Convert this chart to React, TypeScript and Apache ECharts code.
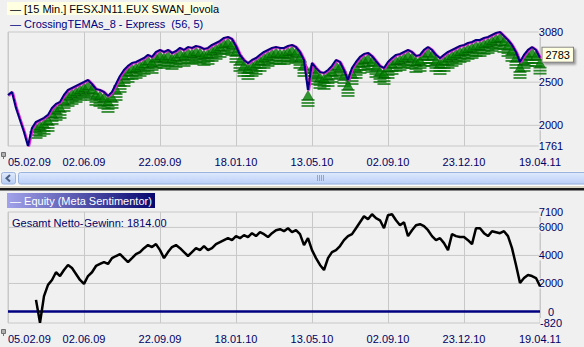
import React, { useEffect, useRef } from 'react';
import * as echarts from 'echarts';

const tickLabels = ['05.02.09', '02.06.09', '22.09.09', '18.01.10', '13.05.10', '02.09.10', '23.12.10', '19.04.11'];
const barsPerTick = 19;

const price = [
  2351, 2386, 2201, 2062, 1923, 1761, 1969, 2039, 2062, 2085,
  2120, 2201, 2247, 2270, 2351, 2409, 2432, 2455, 2478, 2501,
  2525, 2478, 2421, 2409, 2386, 2340, 2386, 2478, 2571, 2640,
  2687, 2721, 2733, 2756, 2779, 2814, 2791, 2849, 2872, 2849,
  2872, 2837, 2860, 2895, 2872, 2906, 2895, 2918, 2906, 2883,
  2895, 2930, 2953, 2976, 3011, 3022, 2999, 2918, 2814, 2756,
  2721, 2756, 2779, 2814, 2849, 2872, 2895, 2906, 2895, 2895,
  2918, 2930, 2906, 2849, 2756, 2409, 2721, 2663, 2617, 2606,
  2640, 2687, 2756, 2733, 2640, 2525, 2663, 2733, 2791, 2825,
  2837, 2802, 2744, 2687, 2663, 2733, 2779, 2814, 2825, 2849,
  2872, 2849, 2802, 2814, 2872, 2906, 2872, 2814, 2779, 2814,
  2849, 2872, 2895, 2918, 2930, 2953, 2964, 2987, 2987, 3011,
  3022, 3045, 3068, 3080, 3034, 2987, 2930, 2849, 2733, 2814,
  2872, 2906, 2872, 2783,
];

const equity = [
  null, null, null, null, null, null, null, 830, -800, 1100,
  1900, 2250, 2800, 2530, 2960, 3320, 3100, 2680, 2250, 1970,
  2530, 2800, 3250, 3390, 3530, 3390, 3810, 3960, 4100, 3810,
  3530, 3810, 4100, 4240, 4520, 4740, 4600, 4810, 4380, 3810,
  4240, 4600, 4740, 4520, 4240, 3960, 4240, 4520, 4380, 4670,
  4380, 4520, 4810, 4950, 5090, 5230, 5090, 5380, 5230, 5450,
  5310, 5590, 5380, 5660, 5520, 5310, 5590, 5800, 5870, 5730,
  5940, 5660, 5800, 5520, 4740, 5230, 4380, 3810, 3320, 2960,
  3810, 4240, 4380, 4670, 5090, 5380, 5520, 5940, 6370, 6800,
  6580, 6940, 6660, 6510, 5940, 6870, 6940, 6510, 6160, 6370,
  5380, 5800, 6160, 6230, 6090, 5800, 5380, 5090, 5230, 4880,
  4380, 5520, 5380, 5310, 5310, 5090, 4810, 5940, 5940, 5590,
  5380, 5730, 5660, 5590, 5730, 5380, 4520, 3320, 2040, 2390,
  2610, 2530, 2390, 1814,
];

const priceAxisLabels = [3000, 3080, 2500, 2000, 1761];
const priceGridValues = [2000, 2500];
const equityAxisLabels = [7100, 6000, 4000, 2000, 0, -820];
const equityGridValues = [2000, 4000, 6000];
const firstSignalBar = 7;

const FONT = '"Liberation Sans", Arial, sans-serif';
const BG = '#f0f0f0';
const GRID = '#c8c8c8';
const NAVY = '#000080';
const LABEL = '#000066';

export default function App() {
  const ref = useRef<HTMLDivElement>(null);

  useEffect(() => {
    if (!ref.current) return;
    const chart = echarts.init(ref.current, null, { renderer: 'svg' });
    const lastBar = price.length - 1;

    const xAxisBase = (gridIndex: number) => ({
      type: 'value',
      gridIndex,
      min: 0,
      max: lastBar,
      interval: barsPerTick,
      axisLine: { show: false },
      axisTick: { show: false },
      splitLine: { show: true, lineStyle: { color: GRID, width: 1 } },
      axisLabel: {
        formatter: (v: number) => tickLabels[Math.round(v / barsPerTick)] ?? '',
        color: LABEL,
        fontSize: 11,
        fontFamily: FONT,
        margin: 10,
        showMinLabel: true,
        showMaxLabel: true,
        alignMinLabel: 'left',
      },
    });

    const yAxisBase = (gridIndex: number, min: number, max: number, values: number[]) => ({
      type: 'value',
      gridIndex,
      position: 'right',
      min,
      max,
      axisLine: { show: false },
      axisTick: { show: false },
      splitLine: { show: false },
      axisLabel: {
        customValues: values,
        formatter: (v: number) => String(v),
        color: LABEL,
        fontSize: 11,
        fontFamily: FONT,
        align: 'center',
        margin: 11,
        backgroundColor: BG,
        lineHeight: 10,
        hideOverlap: false,
      },
    });

    const gridLine = (v: number, xi: number, color = GRID, width = 1, z = 1) => ({
      type: 'line',
      xAxisIndex: xi,
      yAxisIndex: xi,
      data: [[0, v], [lastBar, v]],
      symbol: 'none',
      silent: true,
      z,
      lineStyle: { color, width },
    });

    const signals = price
      .map((v, i) => [i, v])
      .filter((d) => d[0] >= firstSignalBar);

    const dash = (off: number) => ({
      type: 'scatter',
      xAxisIndex: 0,
      yAxisIndex: 0,
      data: signals,
      symbol: 'rect',
      symbolSize: [13, 1.8],
      symbolOffset: [0, off],
      itemStyle: { color: '#007000' },
      silent: true,
      z: 2,
    });

    const series: any[] = [
      ...priceGridValues.map((v) => gridLine(v, 0)),
      ...equityGridValues.map((v) => gridLine(v, 1)),
      gridLine(0, 1, NAVY, 2.5, 3),
      dash(10),
      dash(13),
      dash(16),
      {
        type: 'scatter',
        xAxisIndex: 0,
        yAxisIndex: 0,
        data: signals,
        symbol: 'triangle',
        symbolSize: [10, 9],
        symbolOffset: [0, 5],
        itemStyle: { color: '#008000', borderColor: '#005000', borderWidth: 0.6 },
        silent: true,
        z: 3,
      },
      {
        type: 'line',
        xAxisIndex: 0,
        yAxisIndex: 0,
        data: price.map((v, i) => [i, v]),
        symbol: 'none',
        z: 4,
        lineStyle: {
          color: NAVY,
          width: 2.2,
          shadowColor: '#e020e0',
          shadowBlur: 0,
          shadowOffsetX: 1,
          shadowOffsetY: 0.5,
        },
        markPoint: {
          symbol: 'rect',
          symbolSize: 1,
          itemStyle: { color: 'rgba(0,0,0,0)' },
          data: [{ coord: [lastBar, price[lastBar]], value: price[lastBar] }],
          label: {
            show: true,
            position: 'right',
            distance: 2,
            offset: [0, -3],
            formatter: '{c}',
            color: '#000000',
            fontSize: 11,
            fontFamily: FONT,
            lineHeight: 11,
            backgroundColor: '#ffffe1',
            borderColor: '#808080',
            borderWidth: 1,
            padding: [2, 3, 1, 3],
            shadowColor: 'rgba(0,0,0,0.35)',
            shadowBlur: 2,
            shadowOffsetX: 2,
            shadowOffsetY: 2,
          },
        },
      },
      {
        type: 'line',
        xAxisIndex: 1,
        yAxisIndex: 1,
        data: equity.map((v, i) => [i, v]).filter((d) => d[1] !== null),
        symbol: 'none',
        z: 4,
        lineStyle: { color: '#000000', width: 2.5 },
      },
    ];

    const gesamt = `Gesamt Netto-Gewinn: ${(equity[equity.length - 1] as number).toFixed(2)}`;

    const txt = (x: number, y: number, text: string, fill: string) => ({
      type: 'text',
      x,
      y,
      silent: true,
      style: { text, fill, fontSize: 11, fontFamily: FONT, verticalAlign: 'middle', align: 'left' },
    });

    const pin = (y: number) => ({
      type: 'group',
      silent: true,
      children: [
        { type: 'rect', shape: { x: 1.5, y: y + 0.5, width: 4, height: 4 }, style: { fill: '#b0b0b0', stroke: '#707070', lineWidth: 1 } },
        { type: 'line', shape: { x1: 3.5, y1: y + 4.5, x2: 3.5, y2: y + 7 }, style: { stroke: '#707070', lineWidth: 1 } },
      ],
    });

    const grip = [0, 1, 2, 3].map((k) => ({
      type: 'line',
      shape: { x1: 317.5 + k * 2, y1: 175, x2: 317.5 + k * 2, y2: 181 },
      style: { stroke: '#8ea6d4', lineWidth: 1 },
    }));

    const graphic: any[] = [
      { type: 'rect', shape: { x: 7, y: 2, width: 206, height: 13 }, style: { fill: '#ffffe1' }, silent: true },
      txt(10, 9, '— [15 Min.] FESXJN11.EUX SWAN_lovola', '#000010'),
      txt(10, 24, '— CrossingTEMAs_8 - Express  (56, 5)', NAVY),
      pin(152),
      pin(329),
      { type: 'rect', shape: { x: 0, y: 171, width: 584, height: 14 }, style: { fill: '#f5f5f3' }, silent: true },
      {
        type: 'rect',
        shape: { x: 1.5, y: 172.5, width: 14, height: 11.5, r: 2 },
        style: {
          fill: new echarts.graphic.LinearGradient(0, 0, 0, 1, [
            { offset: 0, color: '#e1ebfd' },
            { offset: 1, color: '#b7ccf3' },
          ]),
          stroke: '#9cb4df',
          lineWidth: 1,
        },
        silent: true,
      },
      {
        type: 'polyline',
        shape: { points: [[10, 175], [6.5, 178.3], [10, 181.5]] },
        style: { stroke: '#4d6185', lineWidth: 2, fill: 'none' },
        silent: true,
      },
      {
        type: 'rect',
        shape: { x: 18.5, y: 172.5, width: 580, height: 11.5, r: 2 },
        style: {
          fill: new echarts.graphic.LinearGradient(0, 0, 0, 1, [
            { offset: 0, color: '#dfe9fd' },
            { offset: 1, color: '#bacff6' },
          ]),
          stroke: '#9ab2de',
          lineWidth: 1,
        },
        silent: true,
      },
      ...grip,
      { type: 'rect', shape: { x: 0, y: 185, width: 584, height: 1 }, style: { fill: '#ffffff' }, silent: true },
      { type: 'rect', shape: { x: 0, y: 186, width: 584, height: 2 }, style: { fill: '#d8d4c6' }, silent: true },
      { type: 'rect', shape: { x: 0, y: 188, width: 584, height: 2.5 }, style: { fill: '#1a1a1a' }, silent: true },
      {
        type: 'rect',
        shape: { x: 7, y: 193, width: 148, height: 15 },
        style: {
          fill: new echarts.graphic.LinearGradient(0, 0, 1, 0, [
            { offset: 0, color: '#a2a2ea' },
            { offset: 1, color: '#06066f' },
          ]),
        },
        silent: true,
      },
      txt(10, 200.5, '— Equity (Meta Sentimentor)', '#ffffff'),
      txt(12, 223, gesamt, LABEL),
    ];

    chart.setOption({
      animation: false,
      backgroundColor: BG,
      grid: [
        { left: 8, top: 32, width: 532, height: 114, show: true, borderColor: GRID, borderWidth: 1, backgroundColor: 'transparent', containLabel: false, outerBoundsMode: 'none' },
        { left: 8, top: 212, width: 532, height: 111, show: true, borderColor: GRID, borderWidth: 1, backgroundColor: 'transparent', containLabel: false, outerBoundsMode: 'none' },
      ],
      xAxis: [xAxisBase(0), xAxisBase(1)],
      yAxis: [
        yAxisBase(0, 1761, 3080, priceAxisLabels),
        yAxisBase(1, -820, 7100, equityAxisLabels),
      ],
      series,
      graphic,
    });

    return () => chart.dispose();
  }, []);

  return <div ref={ref} style={{ position: 'fixed', left: 0, top: 0, width: 584, height: 347 }} />;
}
